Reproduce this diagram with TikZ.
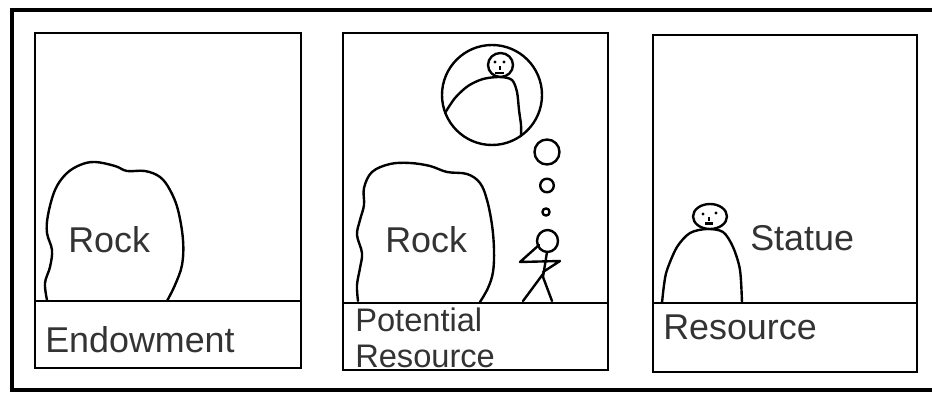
\documentclass[tikz,border=0pt]{standalone}
\usepackage{fontspec}
\setmainfont{Liberation Sans}
\begin{document}
\begin{tikzpicture}[x=0.025cm,y=-0.025cm,
  frame/.style={line width=2.8pt},
  panel/.style={line width=1.3pt},
  sketch/.style={line width=1.7pt,line cap=round,line join=round},
  word/.style={anchor=base west,inner sep=0pt,text=black!80,
    font=\fontsize{25.5}{30}\selectfont}]
  \useasboundingbox (0,0) rectangle (932,398);
  % outer frame (its right side runs past the edge)
  \draw[frame] (960,10) -- (12,10) -- (12,390) -- (960,390);

  % three panels with a caption strip at the bottom
  \draw[panel] (35,33) rectangle (301,368);
  \draw[panel] (35,301) -- (301,301);
  \draw[panel] (343,33) rectangle (608,370);
  \draw[panel] (343,303) -- (608,303);
  \draw[panel] (653,35) rectangle (917,372);
  \draw[panel] (653,303) -- (917,303);

  % first panel: the rock
  \draw[sketch] plot[smooth,tension=0.6] coordinates {(47,300) (45,283) (50,267)
    (52,250) (47,233) (48,215) (55,190) (66,174) (80,165) (95,162) (115,166)
    (127,171) (145,171) (160,177) (170,190) (178,210) (183,240) (182,265)
    (175,285) (167,301)};
  \node[word] (rockA) at (68,253) {Rock};
  \node[word] (endow) at (45,353) {Endowment};

  % second panel: rock, man and his thought
  \draw[sketch] plot[smooth,tension=0.6] coordinates {(358,301) (357,285) (360,268)
    (362,253) (357,235) (360,220) (364,205) (364,188) (372,172) (390,164)
    (410,163) (430,166) (447,172) (467,174) (480,183) (487,200) (492,225)
    (494,250) (493,272) (488,288) (480,302)};
  \node[word] (rockB) at (385,253) {Rock};
  \draw[sketch] (492,95) circle (50);
  \draw[sketch] plot[smooth] coordinates {(445,113) (455,98) (468,86) (483,79)
    (500,77) (512,80) (517,92) (519,110) (521,125) (521,136)};
  \draw[sketch,fill=white] (500.5,65) circle [x radius=12.5,y radius=12];
  \fill (495,62) circle (1.6);
  \fill (504,62) circle (1.6);
  \draw[line width=1pt] (500,66) -- (500,70);
  \draw[line width=2pt] (495,73) -- (504,73);
  \draw[sketch] (547,152) circle (12.5);
  \draw[sketch] (547,185.5) circle (6.8);
  \draw[sketch] (546,212) circle (3.6);
  \draw[sketch] (547.5,241) circle [x radius=10.5,y radius=11];
  \draw[sketch] (547,252) -- (543,277);
  \draw[sketch] (539,245) -- (520,262) -- (560,261) -- (543,272);
  \draw[sketch] (543,274) -- (523,301);
  \draw[sketch] (543,277) -- (552,301);
  \node[word,font=\fontsize{23.2}{30}\selectfont] (potential) at (355,332) {Potential};
  \node[word,font=\fontsize{23.2}{30}\selectfont] (resourceA) at (355,368) {Resource};

  % third panel: the statue
  \draw[sketch] plot[smooth] coordinates {(662,303) (664,285) (667,270) (677,247)
    (690,233) (707,229) (723,232) (733,247) (740,270) (742,303)};
  \draw[sketch,fill=white] (710,216.5) circle [x radius=17,y radius=12.5];
  \fill (703,214) circle (1.6);
  \fill (716,213) circle (1.6);
  \draw[line width=1pt] (709,217) -- (709,221);
  \draw[line width=1.6pt] (705,223.5) -- (713,223.5);
  \node[word] (statue) at (750,251) {Statue};
  \node[word] (resourceB) at (663,340) {Resource};
\end{tikzpicture}
\end{document}
